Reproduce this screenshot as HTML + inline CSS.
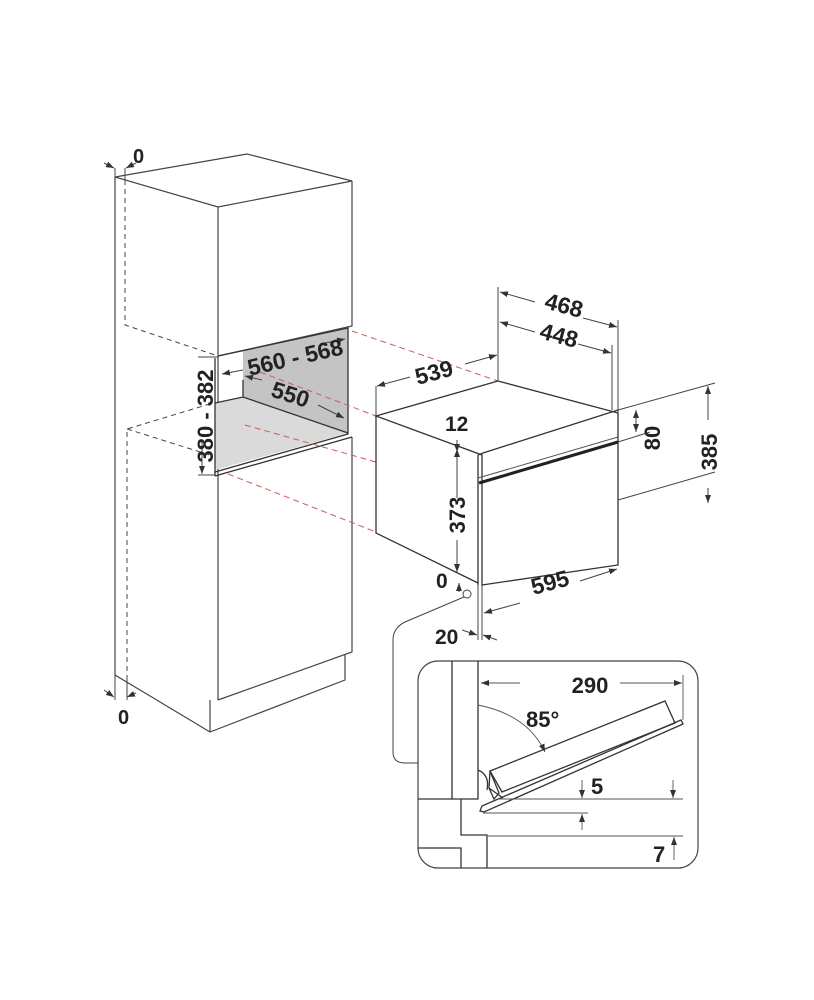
<!DOCTYPE html>
<html><head><meta charset="utf-8"><style>
html,body{margin:0;padding:0;background:#fff}
svg{display:block}
text{font-family:"Liberation Sans",sans-serif;font-weight:bold;fill:#222}
</style></head><body>
<svg width="814" height="1000" viewBox="0 0 814 1000" xmlns="http://www.w3.org/2000/svg">
<defs>
<marker id="a" markerWidth="8" markerHeight="6" refX="8" refY="3" orient="auto" markerUnits="userSpaceOnUse"><path d="M0,0 L8,3 L0,6z" fill="#333"/></marker>
</defs>
<g stroke="#444" stroke-width="1.2" fill="none">
<path d="M115,177 L247,154 L352,181 L218,207 Z"/>
<path d="M115,177 L115,675 L210,732 L345,680 L345,655"/>
<path d="M218,207 L218,700 M210,700 L210,732"/>
<path d="M352,181 L352,326 L218,356"/>
<path d="M352,437 L352,652 L218,700"/>
</g>
<polygon points="243,351 348,328 348,433 243,397" fill="#c4c4c4"/>
<polygon points="215,403 243,397 348,433 215,470" fill="#dadada"/>
<g stroke="#333" stroke-width="1.3" fill="none">
<path d="M215,358 L215,472 L348,434 L348,328 L218,356"/>
<path d="M215,403 L243,397 L348,433 M243,397 L243,380"/>
<path d="M215,476 L352,437 M215,472 L215,476"/>
</g>
<g stroke="#444" stroke-width="1" fill="none" stroke-dasharray="5,4">
<path d="M125,180 L125,325 L218,356"/>
<path d="M127,680 L127,429 L213,403 M127,429 L213,456"/>
</g>
<g stroke="#d05a5a" stroke-width="1" fill="none" stroke-dasharray="6,4">
<path d="M352,331 L498,381"/>
<path d="M260,372 L376,416"/>
<path d="M245,425 L376,462"/>
<path d="M228,474 L376,532"/>
</g>
<g stroke="#444" stroke-width="1" fill="none">
<path d="M104,163 L114,168" marker-end="url(#a)"/>
<path d="M136,163 L126,168" marker-end="url(#a)"/>
<path d="M115,168 L115,177 M125,168 L125,180"/>
<path d="M104,690 L114,697" marker-end="url(#a)"/>
<path d="M136,693 L127,697" marker-end="url(#a)"/>
<path d="M115,675 L115,700 M127,680 L127,700"/>
<path d="M198,357 L218,357 M198,475 L215,475"/>
<path d="M202,440 L202,474" marker-end="url(#a)"/>
<path d="M243,370 L222,374" marker-end="url(#a)"/>
<path d="M320,344 L345,339" marker-end="url(#a)"/>
<path d="M262,380 L245,376" marker-end="url(#a)"/>
<path d="M318,405 L344,418" marker-end="url(#a)"/>
</g>
<text x="133" y="163" font-size="20">0</text>
<text x="118" y="724" font-size="20">0</text>
<text transform="translate(213,416) rotate(-90)" text-anchor="middle" font-size="22">380 - 382</text>
<text transform="translate(297,365) rotate(-13)" text-anchor="middle" font-size="23">560 - 568</text>
<text transform="translate(288,402) rotate(18)" text-anchor="middle" font-size="23">550</text>
<g stroke="#333" stroke-width="1.3" fill="none">
<path d="M376,416 L498,381 L618,413 L618,565 L482,585 L482,455 Z"/>
<path d="M376,416 L376,533 L478,583"/>
<path d="M478,455 L483,453 L618,410 M478,455 L478,585"/>
</g>
<path d="M479,483 L618,442" stroke="#222" stroke-width="3"/>
<path d="M478,478 L618,437" stroke="#555" stroke-width="1"/>
<g stroke="#444" stroke-width="1" fill="none">
<path d="M498,287 L498,381 M618,320 L618,413 M612,345 L612,410 M376,386 L376,416"/>
<path d="M535,302 L500,292" marker-end="url(#a)"/>
<path d="M583,318 L617,327" marker-end="url(#a)"/>
<path d="M535,332 L500,322" marker-end="url(#a)"/>
<path d="M578,344 L611,353" marker-end="url(#a)"/>
<path d="M410,377 L377,386" marker-end="url(#a)"/>
<path d="M465,364 L497,355" marker-end="url(#a)"/>
<path d="M618,410 L715,383 M618,442 L650,432 M618,500 L715,472"/>
<path d="M708,420 L708,386" marker-end="url(#a)"/>
<path d="M708,488 L708,503" marker-end="url(#a)"/>
<path d="M636,416 L636,432" marker-end="url(#a)"/>
<path d="M636,420 L636,410" marker-end="url(#a)"/>
<path d="M457,440 L457,452" marker-end="url(#a)"/>
<path d="M457,498 L457,449" marker-end="url(#a)"/>
<path d="M457,540 L457,572" marker-end="url(#a)"/>
<path d="M459,592 L459,583" marker-end="url(#a)"/>
<path d="M520,603 L484,613" marker-end="url(#a)"/>
<path d="M580,581 L617,569" marker-end="url(#a)"/>
<path d="M482,585 L482,640 M478,585 L478,640"/>
<path d="M462,630 L477,635" marker-end="url(#a)"/>
<path d="M497,640 L483,635" marker-end="url(#a)"/>
</g>
<text transform="translate(562,313) rotate(15)" text-anchor="middle" font-size="23">468</text>
<text transform="translate(557,343) rotate(15)" text-anchor="middle" font-size="23">448</text>
<text transform="translate(436,380) rotate(-15)" text-anchor="middle" font-size="23">539</text>
<text x="445" y="431" font-size="21">12</text>
<text transform="translate(465,515) rotate(-90)" text-anchor="middle" font-size="22">373</text>
<text transform="translate(660,438) rotate(-90)" text-anchor="middle" font-size="22">80</text>
<text transform="translate(717,452) rotate(-90)" text-anchor="middle" font-size="22">385</text>
<text transform="translate(552,590) rotate(-15)" text-anchor="middle" font-size="23">595</text>
<text x="436" y="588" font-size="21">0</text>
<text x="435" y="644" font-size="21">20</text>
<circle cx="467" cy="594" r="4" fill="#fff" stroke="#444" stroke-width="1"/>
<path d="M464,597 L405,622 Q393,628 393,640 L393,752 Q393,763 405,763 L418,763" stroke="#444" stroke-width="1" fill="none"/>
<rect x="418" y="661" width="280" height="207" rx="20" fill="none" stroke="#444" stroke-width="1.2"/>
<g stroke="#333" stroke-width="1.3" fill="none">
<path d="M452,661 L452,799 L478,799 L478,661"/>
<path d="M418,799 L452,799 M461,799 L461,835 L487,835 L487,868"/>
<path d="M418,848 L461,848 L461,868"/>
<path d="M490,771 L489,788 L494,799 L499,793 L490,771 M489,788 L503,798"/>
<path d="M490,771 L665,701 L675,723 L502,792 Z"/>
<path d="M480,811 L482,806 L681,720 L683,724 L484,812 Z"/>
<path d="M478,770 Q490,775 487,790"/>
</g>
<g stroke="#555" stroke-width="0.9" fill="none">
<path d="M498,799 L683,799 M483,813 L588,813 M488,836 L683,836 M683,675 L683,720"/>
<path d="M520,683 L481,683" marker-end="url(#a)"/>
<path d="M620,683 L682,683" marker-end="url(#a)"/>
<path d="M478,705 Q528,715 545,752" marker-end="url(#a)"/>
<path d="M582,780 L582,798" marker-end="url(#a)"/>
<path d="M582,830 L582,814" marker-end="url(#a)"/>
<path d="M673,780 L673,798" marker-end="url(#a)"/>
<path d="M674,860 L674,837" marker-end="url(#a)"/>
</g>
<text x="590" y="693" font-size="22" text-anchor="middle">290</text>
<text x="526" y="727" font-size="22">85°</text>
<text x="591" y="794" font-size="22">5</text>
<text x="653" y="862" font-size="22">7</text>
</svg>
</body></html>
